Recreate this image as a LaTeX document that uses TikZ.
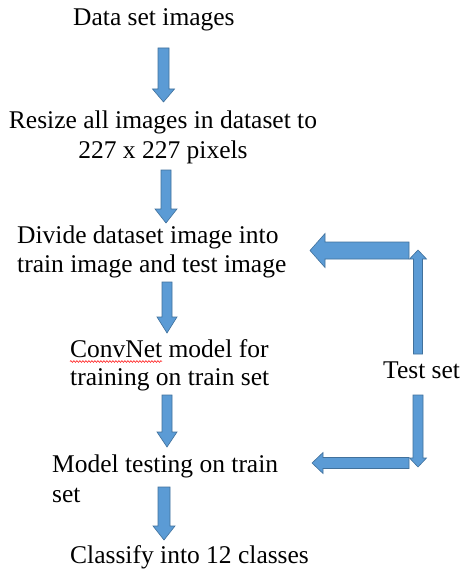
\documentclass[tikz,border=0pt]{standalone}
\usepackage{fontspec}
\setmainfont{Liberation Serif}
\usetikzlibrary{decorations.pathmorphing}
\definecolor{arrfill}{HTML}{5B9BD5}
\definecolor{arrline}{HTML}{41719C}
\tikzset{
  blockarrow/.style={fill=arrfill, draw=arrline, line width=0.6pt, line join=miter},
  lbl/.style={inner sep=0pt, anchor=base west, font=\fontsize{25.5}{29.5}\selectfont},
  lblc/.style={inner sep=0pt, anchor=base, font=\fontsize{25.5}{29.5}\selectfont}
}
% down arrow: cx, ytop, ytip, shaft half width, head half width, head length
\newcommand\dnarr[6]{\path[blockarrow] ({#1-#4},#2) -- ({#1+#4},#2) -- ({#1+#4},{#3-#6}) -- ({#1+#5},{#3-#6}) -- (#1,#3) -- ({#1-#5},{#3-#6}) -- ({#1-#4},{#3-#6}) -- cycle;}
% up arrow: cx, ybottom, ytip, s, h, L
\newcommand\uparr[6]{\path[blockarrow] ({#1-#4},#2) -- ({#1+#4},#2) -- ({#1+#4},{#3+#6}) -- ({#1+#5},{#3+#6}) -- (#1,#3) -- ({#1-#5},{#3+#6}) -- ({#1-#4},{#3+#6}) -- cycle;}
% left arrow: cy, xright, xtip, s, h, L
\newcommand\lfarr[6]{\path[blockarrow] (#2,{#1-#4}) -- (#2,{#1+#4}) -- ({#3+#6},{#1+#4}) -- ({#3+#6},{#1+#5}) -- (#3,#1) -- ({#3+#6},{#1-#5}) -- ({#3+#6},{#1-#4}) -- cycle;}
\begin{document}
\begin{tikzpicture}[x=1pt,y=-1pt]
\useasboundingbox[fill=white] (0,0) rectangle (460,572);

\node[lbl] (t1) at (73,26) {Data set images};
\node[lblc] (t2a) at (163,129) {Resize all images in dataset to};
\node[lblc] (t2b) at (163,158) {227 x 227 pixels};
\node[lbl] (t3a) at (17,243) {Divide dataset image into};
\node[lbl] (t3b) at (17,272) {train image and test image};
\node[lbl] (t4a) at (70,357) {ConvNet model for};
\node[lbl] (t4b) at (70,385) {training on train set};
\node[lbl] (t5a) at (52,472) {Model testing on train};
\node[lbl] (t5b) at (52,502) {set};
\node[lbl] (t6) at (70,563) {Classify into 12 classes};
\node[lbl] (ts) at (383,378) {Test set};

% spell-check underline
\draw[red, line width=0.5pt, decorate, decoration={snake, amplitude=0.9pt, segment length=3pt}] (70,361.5) -- (162,361.5);

\dnarr{163.5}{48}{102}{5.5}{11}{13}
\dnarr{166}{170}{223}{5}{11}{14}
\dnarr{167}{282}{333}{5}{10}{16}
\dnarr{167}{395}{447}{5}{10}{15}
\dnarr{164}{487}{540}{6}{11}{14}

\lfarr{250.5}{409}{310}{8.5}{17}{15}
\uparr{418}{354}{250}{4.5}{8.5}{9}
\lfarr{463}{409}{312}{5.5}{10.5}{11}
\dnarr{418}{395}{467}{5}{8.5}{9}
\end{tikzpicture}
\end{document}
